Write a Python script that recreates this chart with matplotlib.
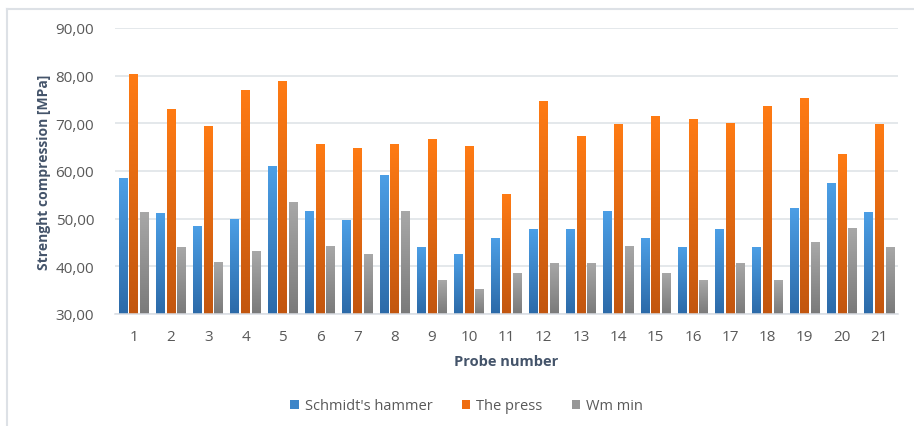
import numpy as np
import matplotlib
matplotlib.use("Agg")
import matplotlib.pyplot as plt
from matplotlib.colors import LinearSegmentedColormap
from matplotlib.lines import Line2D
from matplotlib.patches import Rectangle

plt.rcParams['font.family'] = ['Open Sans', 'DejaVu Sans']

probes = [str(i) for i in range(1, 22)]
schmidt = [58.5, 51.2, 48.5, 50.0, 61.1, 51.6, 49.7, 59.2, 44.1, 42.5, 46.0,
           47.8, 47.8, 51.6, 46.0, 44.1, 47.8, 44.1, 52.3, 57.4, 51.4]
press = [80.4, 73.0, 69.4, 77.0, 78.9, 65.6, 64.9, 65.6, 66.7, 65.2, 55.2,
         74.6, 67.3, 69.9, 71.5, 71.0, 70.1, 73.7, 75.3, 63.5, 69.9]
wm_min = [51.5, 44.0, 40.9, 43.2, 53.5, 44.3, 42.5, 51.6, 37.1, 35.3, 38.7,
          40.7, 40.7, 44.3, 38.7, 37.1, 40.7, 37.1, 45.1, 48.0, 44.1]
series_names = ["Schmidt's hammer", "The press", "Wm min"]
yticks = [30, 40, 50, 60, 70, 80, 90]

# (top colour, bottom colour, legend colour) for each series
styles = [("#4c9fe6", "#2c6aa8", "#3d85c8"),
          ("#ff7b14", "#c2560f", "#ef6c0f"),
          ("#a8a8a8", "#7a7a7a", "#979797")]

fig = plt.figure(figsize=(9.14, 4.27), dpi=100)
ax = fig.add_axes([115 / 914, 1 - 315 / 427, (898 - 115) / 914, (315 - 29) / 427])

x = np.arange(len(probes))
width = 0.235
step = 0.285
ymin, ymax = 30, 90

grad = np.linspace(0, 1, 256).reshape(-1, 1)
for k, (vals, (ctop, cbot, _)) in enumerate(zip([schmidt, press, wm_min], styles)):
    cmap = LinearSegmentedColormap.from_list(f"g{k}", [cbot, ctop])
    bars = ax.bar(x + (k - 1) * step, np.array(vals) - ymin, width, bottom=ymin,
                  color="none", edgecolor="none", zorder=2)
    for b in bars:
        bx, by = b.get_x(), b.get_y()
        bw, bh = b.get_width(), b.get_height()
        im = ax.imshow(grad, cmap=cmap, origin="lower", aspect="auto",
                       extent=(bx, bx + bw, by, by + bh), zorder=2,
                       interpolation="bilinear")
        im.set_clip_path(b)

ax.set_xlim(-0.5, len(probes) - 0.5)
ax.set_ylim(ymin, ymax)
ax.set_yticks(yticks)
ax.set_yticklabels([f"{v:.2f}".replace(".", ",") for v in yticks])
ax.set_xticks(x)
ax.set_xticklabels(probes)
ax.tick_params(axis="both", length=0, colors="#595959", labelsize=11)
ax.tick_params(axis="y", pad=15)
ax.tick_params(axis="x", pad=11)
ax.grid(axis="y", color="#dde1e6", linewidth=1.1, zorder=0)
ax.set_axisbelow(True)
for s in ["top", "right", "left"]:
    ax.spines[s].set_visible(False)
ax.spines["bottom"].set_color("#d9dde3")
ax.spines["bottom"].set_linewidth(1.1)

ax.set_ylabel("Strenght compression [MPa]", fontsize=10, fontweight="bold",
              color="#44546a", labelpad=3)
ax.set_xlabel("Probe number", fontsize=10.5, fontweight="bold",
              color="#44546a", labelpad=7)

handles = [Rectangle((0, 0), 1, 1, facecolor=c, edgecolor="none") for _, _, c in styles]
fig.legend(handles, series_names, loc="center", bbox_to_anchor=(466.5 / 914, 1 - 407 / 427),
           ncol=3, frameon=False, fontsize=10.5, labelcolor="#595959",
           handlelength=0.6, handleheight=0.6, handletextpad=0.4, columnspacing=2.0)

# outer chart frame
fig.add_artist(Line2D([7 / 914, 1], [1 - 10 / 427] * 2, color="#dde1e6", lw=1.5))
fig.add_artist(Line2D([7 / 914] * 2, [0, 1 - 10 / 427], color="#dde1e6", lw=1.5))

fig.savefig("out.png", dpi=100, facecolor="white")
